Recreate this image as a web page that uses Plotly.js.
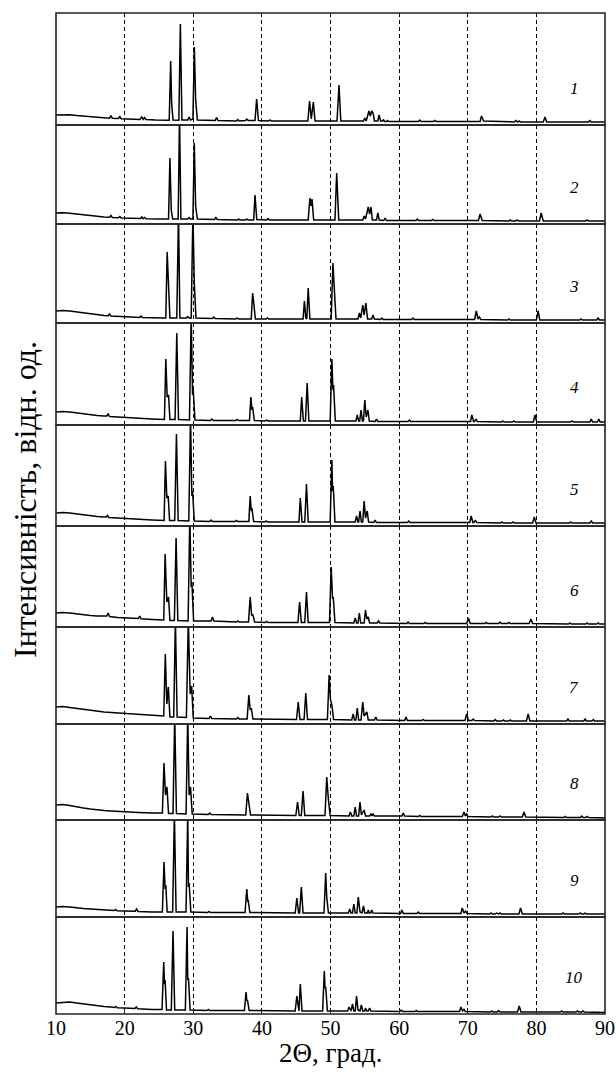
<!DOCTYPE html>
<html><head><meta charset="utf-8">
<script src="https://cdn.plot.ly/plotly-3.0.1.min.js"></script>
<style>html,body{margin:0;padding:0;background:#fff}</style>
</head><body><div id="chart" style="width:616px;height:1073px"></div>
<script>
// ---- data: [2Theta, intensity] vertices (intensity in relative units) ----
const sampleLabels = ['1','2','3','4','5','6','7','8','9','10'];
const xTicks = [10,20,30,40,50,60,70,80,90];
const xTitle = '2Θ, град.';
const yTitle = 'Інтенсивність, відн. од.';

const s1 = [[10,10],[11,10.5],[12,10.3],[13,9.5],[14,8.8],[15,8.2],[16,7.6],[17,7],[17.8,6.8],[18,9.5],[18.2,6.8],[19.1,6.5],[19.3,8.5],[19.5,6.3],[20.5,6],[22.2,5.6],[22.5,8],[22.7,5.6],[22.9,7.5],[23.1,5.5],[24.5,5],[26.5,4.8],[26.71,64],[26.85,22],[27.05,5],[27.9,4.8],[28.12,101],[28.35,5],[29.2,5],[29.4,8],[29.6,5],[29.95,6],[30.16,78],[30.35,25],[30.6,5],[33.2,4.5],[33.4,7.5],[33.6,4.5],[36.3,4],[36.5,5.5],[36.7,4],[37.6,4.5],[37.8,6],[38.0,4.5],[39.0,4.5],[39.24,26],[39.5,4.5],[41.0,4],[41.2,5],[41.4,4],[46.7,4],[46.95,24],[47.2,6],[47.5,23],[47.75,4],[50.95,4],[51.24,40],[51.5,4],[54.8,4],[55.0,7],[55.2,4],[55.6,14],[55.8,9],[56.0,14],[56.2,12],[56.4,4],[56.9,4],[57.07,10],[57.3,4],[57.6,4],[57.7,5.5],[57.9,3.5],[58.2,3.5],[58.3,4.5],[58.5,3.5],[62.8,3.5],[63.0,5],[63.2,3.5],[65,3.5],[65.2,4.5],[65.4,3.5],[71.8,3.5],[72.0,9],[72.3,4],[76.8,3],[77.0,4.5],[77.3,3],[77.5,4],[77.7,3],[81.0,3],[81.26,8],[81.5,3],[87.6,3],[87.8,4.5],[88.0,3],[90,3]];

const s2 = [[10,11],[11,11.3],[12,10.8],[13,10],[14,9],[15,8.2],[16,7.5],[17,7],[17.8,6.8],[18,8.5],[18.2,6.5],[19.1,6.3],[19.3,7.5],[19.5,6],[21,5.8],[22.3,5.5],[22.5,7],[22.7,5.3],[22.9,6.5],[23.1,5.2],[25,5],[26.4,5],[26.6,66],[26.8,14],[27.0,5],[27.8,5],[28.0,110],[28.2,5],[29.2,5],[29.4,6.5],[29.6,5],[29.95,5],[30.15,81],[30.35,18],[30.6,5],[33.1,4.5],[33.3,6.5],[33.5,4.5],[36.4,4],[36.6,5],[36.8,4],[37.6,4],[37.8,5],[38,4],[38.8,4],[39.0,29],[39.25,4.5],[40.7,4],[40.9,5.5],[41.1,4],[46.75,4],[47.0,26],[47.15,18],[47.3,25],[47.55,4],[50.65,4],[50.9,51],[51.2,4],[54.7,4],[54.9,8],[55.1,5],[55.5,17],[55.7,10],[55.9,17],[56.1,4],[56.7,4],[56.9,11],[57.1,4],[57.75,3.5],[57.95,6],[58.15,3.5],[62.45,3.5],[62.65,5],[62.85,3.5],[64.7,3.5],[64.9,4.5],[65.1,3.5],[71.55,3.5],[71.8,10],[72.1,3.5],[76,3],[76.2,4],[76.4,3],[77,3],[77.2,4],[77.4,3],[80.45,3],[80.7,11],[81,3],[87.2,3],[87.4,4],[87.6,3],[90,3]];

const s3 = [[10,12],[11,12.5],[12,12],[13,11],[14,10],[15,9],[16,8.2],[17,7.5],[17.6,7.2],[17.8,9],[18,7],[19,6.5],[21,6],[22.2,5.6],[22.4,7],[22.6,5.5],[24,5.2],[26.0,5],[26.2,71],[26.4,30],[26.6,5],[27.6,5],[27.85,110],[28.05,5],[29.0,5],[29.2,6.5],[29.4,5],[29.7,5],[29.95,110],[30.15,40],[30.4,5],[32.8,4.5],[33.0,6],[33.2,4.5],[36.2,4],[36.4,5],[36.6,4],[38.45,4],[38.65,30],[38.85,18],[39.05,4],[40.6,4],[40.8,5],[41.0,4],[46.0,4],[46.2,22],[46.4,5],[46.55,4],[46.75,35],[47.0,4],[50.1,4],[50.35,60],[50.55,30],[50.8,4],[54.0,4],[54.2,10],[54.4,5],[54.7,18],[54.9,8],[55.15,20],[55.4,4],[56.0,4],[56.2,8],[56.4,4],[57.3,3.5],[57.5,5],[57.7,3.5],[61.8,3.5],[62.0,5],[62.2,3.5],[71.0,3.5],[71.25,12],[71.5,4],[71.7,6],[71.9,3.5],[75.8,3],[76.0,4],[76.2,3],[80.0,3],[80.25,12],[80.5,3],[86.3,3],[86.5,4],[86.7,3],[88.8,3],[89,5],[89.2,3],[90,3]];

const s4 = [[10,13],[11,13.5],[12,13],[13,12],[14,11],[15,10],[16,9.5],[17,9],[17.4,9],[17.6,11],[17.8,8.5],[19,8],[21,7],[22,6.5],[24,6],[25.8,5.5],[26.0,66],[26.2,28],[26.4,30],[26.6,5.5],[27.35,5.5],[27.6,92],[27.85,5.5],[29.45,5],[29.7,110],[29.9,30],[30.0,35],[30.25,5],[32.5,4.5],[32.7,6],[32.9,4.5],[36.2,4.5],[36.4,5.5],[36.6,4.5],[38.2,4.5],[38.4,28],[38.55,15],[38.65,18],[38.9,4.5],[40.5,4],[40.7,5],[40.9,4],[45.6,4],[45.8,28],[46.05,4],[46.35,4],[46.6,42],[46.85,4],[49.95,4],[50.2,66],[50.35,35],[50.45,40],[50.7,4],[53.7,4],[53.9,10],[54.1,4],[54.25,4],[54.45,15],[54.65,4],[54.8,4],[55.0,25],[55.2,8],[55.45,15],[55.65,4],[56.5,3.5],[56.7,6],[56.9,3.5],[61.3,3.5],[61.5,5],[61.7,3.5],[70.4,3.5],[70.6,10],[70.85,3.5],[71.0,3.5],[71.2,6],[71.4,3.5],[74.9,3],[75.1,4],[75.3,3],[76.5,3],[76.7,4],[76.9,3],[79.55,3],[79.8,10],[80.05,3],[85,3],[85.2,4],[85.4,3],[87.8,3],[88.0,6],[88.2,3],[88.9,3],[89.1,6],[89.3,3],[90,3]];

const s5 = [[10,13],[11,13.5],[12,13],[13,12],[14,11],[15,10],[16,9.5],[17,9],[17.3,9],[17.5,10.5],[17.7,8.5],[19,8],[21,7],[22,6.5],[24,6],[25.75,5.5],[25.95,65],[26.15,28],[26.35,30],[26.55,5.5],[27.3,5.5],[27.55,92],[27.8,5.5],[29.35,5],[29.6,110],[29.8,30],[29.9,35],[30.15,5],[32.4,4.5],[32.6,6],[32.8,4.5],[36.1,4.5],[36.3,5.5],[36.5,4.5],[38.1,4.5],[38.3,30],[38.45,15],[38.55,18],[38.8,4.5],[40.4,4],[40.6,5],[40.8,4],[45.4,4],[45.6,28],[45.85,4],[46.25,4],[46.5,42],[46.75,4],[49.95,4],[50.2,66],[50.3,35],[50.4,40],[50.65,4],[53.6,4],[53.8,10],[54.0,4],[54.1,4],[54.3,15],[54.5,4],[54.7,4],[54.9,25],[55.1,8],[55.35,15],[55.55,4],[56.3,3.5],[56.5,6],[56.7,3.5],[61.2,3.5],[61.4,5],[61.6,3.5],[70.3,3.5],[70.5,10],[70.75,3.5],[70.9,3.5],[71.1,6],[71.3,3.5],[74.8,3],[75,4],[75.2,3],[76.4,3],[76.6,4],[76.8,3],[79.45,3],[79.7,9],[79.95,3],[84.8,3],[85,4],[85.2,3],[87.8,3],[88,5],[88.2,3],[90,3]];

const s6 = [[10,14],[11,14.5],[12,14],[13,13],[14,12],[15,11.5],[16,11],[17,11],[17.4,11],[17.6,14],[17.8,10.5],[19,9.5],[20,9],[22,8.5],[22.2,11],[22.4,8.2],[24,7.5],[25.7,7],[25.9,73],[26.15,25],[26.4,30],[26.6,6.5],[27.25,6.5],[27.5,89],[27.75,6.5],[29.25,6],[29.5,110],[29.7,40],[29.8,45],[30.05,6],[32.6,6],[32.8,10],[33.0,6],[36.3,5],[36.5,6],[36.7,5],[38.05,5],[38.3,30],[38.5,12],[38.7,12],[38.95,5],[40.5,4.5],[40.7,5.5],[40.9,4.5],[45.25,4.5],[45.5,25],[45.75,4.5],[46.25,4.5],[46.5,35],[46.75,4.5],[49.85,4.5],[50.1,60],[50.3,28],[50.4,30],[50.65,4.5],[53.4,4],[53.6,9],[53.8,4],[54.0,4],[54.2,14],[54.4,4],[54.9,4],[55.1,17],[55.3,8],[55.5,10],[55.7,4],[56.8,4],[57.0,6],[57.2,4],[61.1,3.5],[61.3,5],[61.5,3.5],[63.6,3.5],[63.8,4.5],[64,3.5],[69.85,3.5],[70.1,9],[70.35,3.5],[72.5,3.5],[72.7,4.5],[72.9,3.5],[74.5,3.5],[74.7,5],[74.9,3.5],[75.8,3.5],[76,4.5],[76.2,3.5],[78.95,3.5],[79.2,8],[79.45,3.5],[84.7,3],[84.9,4],[85.1,3],[87.2,3],[87.4,4],[87.6,3],[88.8,3],[89,4],[89.2,3],[90,3]];

const s7 = [[10,17],[11,17.5],[12,16.5],[13,15.5],[14,14.5],[15,13.5],[16,12.5],[17,12],[18,11.5],[19,11],[20,10.5],[22,9.5],[24,8.5],[25.7,8],[25.93,70],[26.15,20],[26.37,37],[26.6,7],[27.15,7],[27.4,105],[27.65,7],[29.0,6.5],[29.28,105],[29.55,30],[29.77,38],[30.0,6],[32.3,5.5],[32.5,8],[32.7,5.5],[36.3,5],[36.5,6.5],[36.7,5],[37.85,5],[38.1,29],[38.3,14],[38.45,16],[38.7,5],[45.05,4.5],[45.3,22],[45.55,4.5],[46.15,4.5],[46.4,31],[46.65,4.5],[49.55,4.5],[49.8,49],[50.0,24],[50.2,19],[50.45,4.5],[53.1,4],[53.3,10],[53.5,4],[53.7,4],[53.9,16],[54.1,4],[54.45,4],[54.7,22],[54.9,8],[55.3,12],[55.5,4],[56.4,4],[56.6,7],[56.8,4],[60.8,3.5],[61.0,7],[61.2,3.5],[63.3,3.5],[63.5,4.5],[63.7,3.5],[69.6,3.5],[69.85,10],[70.1,3.5],[70.6,3.5],[70.8,5],[71,3.5],[73.8,3],[74,4.5],[74.2,3],[75,3],[75.2,4],[75.4,3],[76,3],[76.2,4],[76.4,3],[78.55,3],[78.8,10],[79.05,3],[84.4,3],[84.6,5],[84.8,3],[86.9,3],[87.1,5],[87.3,3],[88.1,3],[88.3,4.5],[88.5,3],[90,3]];

const s8 = [[10,15],[11,15.5],[12,14.5],[13,13],[14,12],[15,11],[16,10],[17,9.5],[18,9],[19,8.5],[20,8],[22,7.5],[24,7],[25.5,7],[25.74,57],[25.95,25],[26.17,33],[26.4,6.5],[27.05,6.5],[27.3,105],[27.55,6.5],[28.95,6],[29.2,105],[29.4,25],[29.6,33],[29.85,6],[32.2,5.5],[32.4,7],[32.6,5.5],[37.65,5],[37.9,27],[38.1,15],[38.35,5],[44.95,4.5],[45.2,18],[45.45,4.5],[45.75,4.5],[46.0,29],[46.25,4.5],[49.2,4.5],[49.45,43],[49.7,20],[49.95,4.5],[52.7,4],[52.9,8],[53.1,4],[53.4,4],[53.6,13],[53.8,4],[54.1,4],[54.3,18],[54.5,5],[54.9,10],[55.1,4],[55.7,4],[55.9,6],[56.05,4],[56.2,6],[56.4,4],[60.4,4],[60.6,7],[60.8,4],[62.8,3.5],[63.0,4.5],[63.2,3.5],[69.2,3.5],[69.45,8],[69.65,4],[69.85,6],[70.05,3.5],[73.4,3],[73.6,4],[73.8,3],[74.5,3],[74.7,4],[74.9,3],[77.95,3],[78.2,8],[78.45,3],[84,2.5],[84.2,3.5],[84.4,2.5],[86.4,2.5],[86.6,4],[86.8,2.5],[87.2,2.5],[87.4,3.5],[87.6,2.5],[90,2]];

const s9 = [[10,10],[11,10.5],[12,10],[13,9],[14,8.5],[15,8],[16,7.5],[17,7],[18.5,6.5],[18.7,7.5],[18.9,6.3],[20,6],[21.55,5.8],[21.75,8],[21.95,5.6],[24,5],[25.5,5],[25.74,55],[25.9,28],[26.0,32],[26.2,5],[27.0,5],[27.25,105],[27.5,5],[28.95,5],[29.2,105],[29.3,30],[29.4,34],[29.65,5],[32.1,4.5],[32.3,5.5],[32.5,4.5],[37.55,4.5],[37.8,28],[37.95,15],[38.0,17],[38.25,4.5],[44.85,4],[45.1,19],[45.35,4],[45.5,4],[45.75,30],[46.0,4],[49.05,4],[49.3,44],[49.45,20],[49.7,4],[52.6,4],[52.8,8],[53.0,4],[53.2,4],[53.4,13],[53.6,4],[53.85,4],[54.05,20],[54.3,5],[54.6,4],[54.8,11],[55.0,4],[55.4,4],[55.5,7],[55.65,4],[55.85,4],[56.0,7],[56.2,4],[60.2,3.5],[60.4,7],[60.6,3.5],[62.6,3.5],[62.8,5],[63.0,3.5],[69.0,3.5],[69.2,9],[69.45,4],[69.7,6],[69.9,3.5],[73.2,3],[73.4,4],[73.6,3],[74.0,3],[74.2,4],[74.4,3],[74.5,3],[74.7,4],[74.9,3],[77.45,3],[77.7,9],[77.95,3],[83.7,3],[83.9,4],[84.1,3],[86.2,3],[86.4,4],[86.6,3],[86.9,3],[87.1,3.8],[87.3,3],[90,3]];

const s10 = [[10,11],[11,11.5],[12,12],[13,11],[14,10],[15,9],[16,8],[17,7.5],[18,7],[18.5,6.5],[18.7,7.5],[18.9,6.3],[20,6],[21.5,5.5],[21.7,7],[21.9,5.2],[24,4.5],[25.45,4.5],[25.7,52],[25.8,30],[25.9,34],[26.1,4],[26.8,4],[27.05,83],[27.3,4],[28.85,4],[29.1,87],[29.2,34],[29.3,36],[29.55,4],[32.0,3.5],[32.2,4.5],[32.4,3.5],[37.45,3.5],[37.7,22],[37.8,13],[37.9,14],[38.15,3.5],[44.85,3],[45.1,18],[45.35,3],[45.4,3],[45.6,30],[45.85,3],[48.85,3],[49.1,43],[49.2,26],[49.3,27],[49.55,3],[52.5,3],[52.7,7],[52.9,3],[53.0,3],[53.2,10],[53.4,3],[53.6,3],[53.8,18],[54.0,4],[54.3,3],[54.5,9],[54.7,3],[55.0,3],[55.1,6],[55.3,3],[55.5,3],[55.7,6],[55.9,3],[60.1,2.5],[60.3,4],[60.5,2.5],[62.3,2.5],[62.5,3.5],[62.7,2.5],[68.8,2.5],[69.0,7],[69.25,3],[69.45,4.5],[69.65,2.5],[73.3,2],[73.5,3],[73.7,2],[74.3,2],[74.5,3.5],[74.7,2],[77.25,2],[77.5,8],[77.75,2],[83.5,2],[83.7,3],[83.9,2],[85.8,2],[86.0,3],[86.2,2],[86.6,2],[86.8,3],[87,2],[90,1.5]];

const samples = [s1,s2,s3,s4,s5,s6,s7,s8,s9,s10];

// ---- layout geometry (pixels) ----
const W = 616, H = 1073;
const M = {l:56, r:11, t:13, b:59};
const edges = [13,125,224,323,425,526,627,724,820,917,1014]; // panel borders in px
const plotH = H - M.t - M.b;
const toPaper = px => (H - M.b - px) / plotH;
const FONT = '"Liberation Serif", "Times New Roman", serif';

const traces = [];
const layout = {
  width: W, height: H, margin: M, showlegend: false,
  paper_bgcolor: '#fff', plot_bgcolor: 'rgba(0,0,0,0)',
  font: {family: FONT, color: '#000', size: 18},
  xaxis: {range: [10, 90], tickvals: xTicks, ticktext: xTicks.map(String),
          showgrid: true, gridcolor: '#000', gridwidth: 1, griddash: '4px,3px',
          zeroline: false, showline: false, ticks: 'inside', ticklen: 4, tickcolor: '#222',
          tickfont: {family: FONT, size: 20, color: '#000'}, anchor: 'y10', fixedrange: true},
  shapes: [], annotations: []
};

samples.forEach((s, i) => {
  const n = i + 1;
  const ya = n === 1 ? 'y' : 'y' + n;
  const key = n === 1 ? 'yaxis' : 'yaxis' + n;
  const top = edges[i], bot = edges[i + 1];
  traces.push({
    type: 'scatter', mode: 'lines', xaxis: 'x', yaxis: ya,
    x: s.map(p => p[0]), y: s.map(p => p[1]),
    line: {color: '#000', width: 1.5}, hoverinfo: 'skip'
  });
  layout[key] = {domain: [toPaper(bot), toPaper(top)], range: [0, bot - top], anchor: 'x',
    showgrid: false, zeroline: false, showticklabels: false, ticks: '', showline: false, fixedrange: true};
  layout.shapes.push({type: 'rect', xref: 'paper', yref: 'paper', x0: 0, x1: 1,
    y0: toPaper(bot), y1: toPaper(top), line: {color: '#222', width: 1.6}, layer: 'above'});
  layout.annotations.push({xref: 'x', yref: ya, x: 85.5, y: 37, text: sampleLabels[i],
    showarrow: false, xanchor: 'center', yanchor: 'middle',
    font: {family: FONT, size: 17, color: '#000', style: 'italic'}});
});

layout.annotations.push({xref: 'paper', yref: 'paper', x: (25 - M.l) / (W - M.l - M.r), y: toPaper(500),
  text: yTitle, textangle: -90, showarrow: false, xanchor: 'center', yanchor: 'middle',
  font: {family: FONT, size: 32, color: '#000'}});
layout.annotations.push({xref: 'paper', yref: 'paper', x: 0.5, y: toPaper(1053),
  text: xTitle, showarrow: false, xanchor: 'center', yanchor: 'middle',
  font: {family: FONT, size: 27, color: '#000'}});

Plotly.newPlot('chart', traces, layout, {staticPlot: true, displayModeBar: false});
</script></body></html>
